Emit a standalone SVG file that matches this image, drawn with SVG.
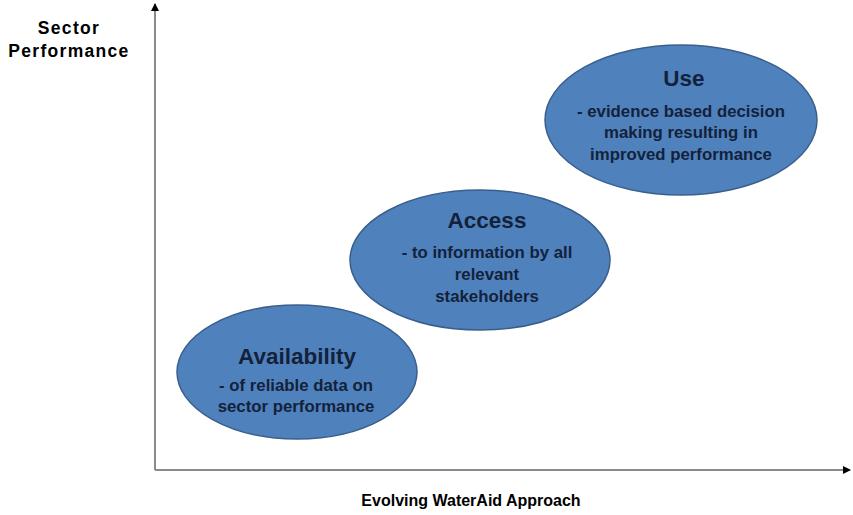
<svg xmlns="http://www.w3.org/2000/svg" width="853" height="515" viewBox="0 0 853 515">
  <style>
    .stage { fill: #4f81bd; stroke: #3a5f8c; stroke-width: 1.5; }
    .title { font-family: "Liberation Sans", Arial, sans-serif; font-weight: bold; font-size: 22.5px; fill: #14213a; text-anchor: middle; }
    .body { font-family: "Liberation Sans", Arial, sans-serif; font-weight: bold; font-size: 16.8px; fill: #14213a; text-anchor: middle; }
    .axis-label { font-family: "Liberation Sans", Arial, sans-serif; font-weight: bold; fill: #000; text-anchor: middle; }
    .axis { stroke: #8a8a8a; stroke-width: 2; fill: none; }
  </style>
  <defs>
    <marker id="arrow" markerWidth="8" markerHeight="8" refX="7" refY="4" orient="auto" markerUnits="userSpaceOnUse">
      <path d="M0,0 L8,4 L0,8 Z" fill="#000"/>
    </marker>
  </defs>
  <rect width="853" height="515" fill="#fff"/>

  <g id="connectors">
    <line class="axis" x1="155" y1="470" x2="155" y2="4" marker-end="url(#arrow)"/>
    <line class="axis" x1="155" y1="470" x2="850" y2="470" marker-end="url(#arrow)"/>
  </g>

  <g id="y-axis-label">
    <text class="axis-label" x="69" y="34" font-size="17.5" letter-spacing="1.3">Sector</text>
    <text class="axis-label" x="69" y="57" font-size="17.5" letter-spacing="1.3">Performance</text>
  </g>
  <g id="x-axis-label">
    <text class="axis-label" x="471" y="506" font-size="16">Evolving WaterAid Approach</text>
  </g>

  <g id="availability">
    <ellipse class="stage" cx="297" cy="372" rx="120" ry="67"/>
    <text class="title" x="297" y="364">Availability</text>
    <text class="body" x="296" y="391">- of reliable data on</text>
    <text class="body" x="296" y="412">sector performance</text>
  </g>

  <g id="access">
    <ellipse class="stage" cx="480" cy="260" rx="130" ry="70"/>
    <text class="title" x="487" y="228">Access</text>
    <text class="body" x="487" y="258">- to information by all</text>
    <text class="body" x="487" y="280">relevant</text>
    <text class="body" x="487" y="302">stakeholders</text>
  </g>

  <g id="use">
    <ellipse class="stage" cx="681" cy="120" rx="136" ry="75"/>
    <text class="title" x="684" y="86">Use</text>
    <text class="body" x="681" y="117">- evidence based decision</text>
    <text class="body" x="681" y="138">making resulting in</text>
    <text class="body" x="681" y="160">improved performance</text>
  </g>
</svg>
